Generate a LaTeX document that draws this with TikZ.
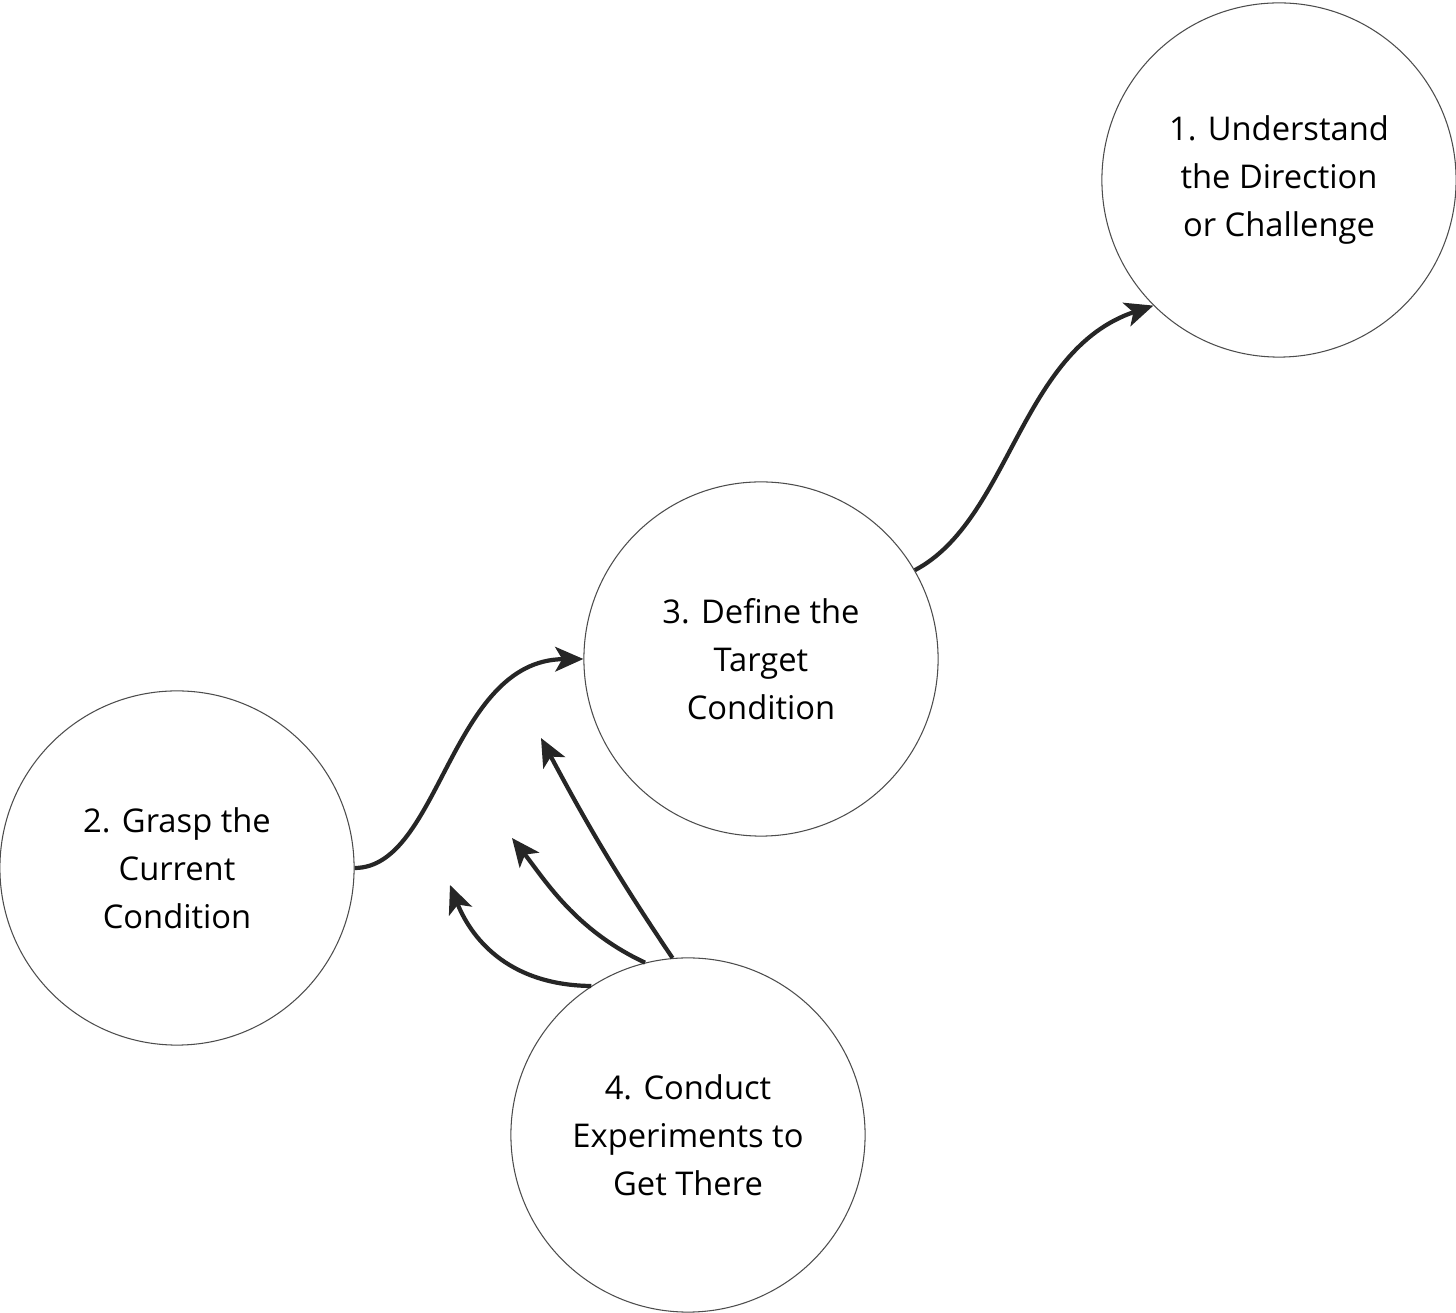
\documentclass[tikz,border=0pt]{standalone}
\usepackage{fontspec}
\setmainfont{Open Sans}
\usetikzlibrary{arrows.meta}
\begin{document}
\begin{tikzpicture}[x=0.01cm,y=-0.01cm,
  circ/.style={circle,draw=black!70,line width=0.3pt,minimum size=354\pgflinewidth*0+3.54cm,inner sep=0pt,align=center,font=\fontsize{9.3}{13.7}\selectfont},
  arr/.style={line width=1.2pt,draw=black!85,-{Stealth[length=8pt,width=7pt,inset=2pt]}}]
\useasboundingbox (0,0) rectangle (1456,1313);
\node[circ] (n1) at (1279,180) {1. Understand\\the Direction\\or Challenge};
\node[circ] (n3) at (761,659) {3. Define the\\Target\\Condition};
\node[circ] (n2) at (177,868) {2. Grasp the\\Current\\Condition};
\node[circ] (n4) at (688,1135) {4. Conduct\\Experiments to\\Get There};
\coordinate (a1) at (450,885);
\coordinate (a2) at (512,838);
\coordinate (a3) at (541,738);
\draw[arr] (n3.30) .. controls (1010,520) and (1020,350) .. (n1.225);
\draw[arr] (n2.east) .. controls (440,868) and (450,660) .. (n3.west);
\draw[arr] (n4.123) .. controls (505,985) and (470,935) .. (a1);
\draw[arr] (n4.104) .. controls (575,930) and (545,880) .. (a2);
\draw[arr] (n4.95) .. controls (620,880) and (590,830) .. (a3);
\end{tikzpicture}
\end{document}
